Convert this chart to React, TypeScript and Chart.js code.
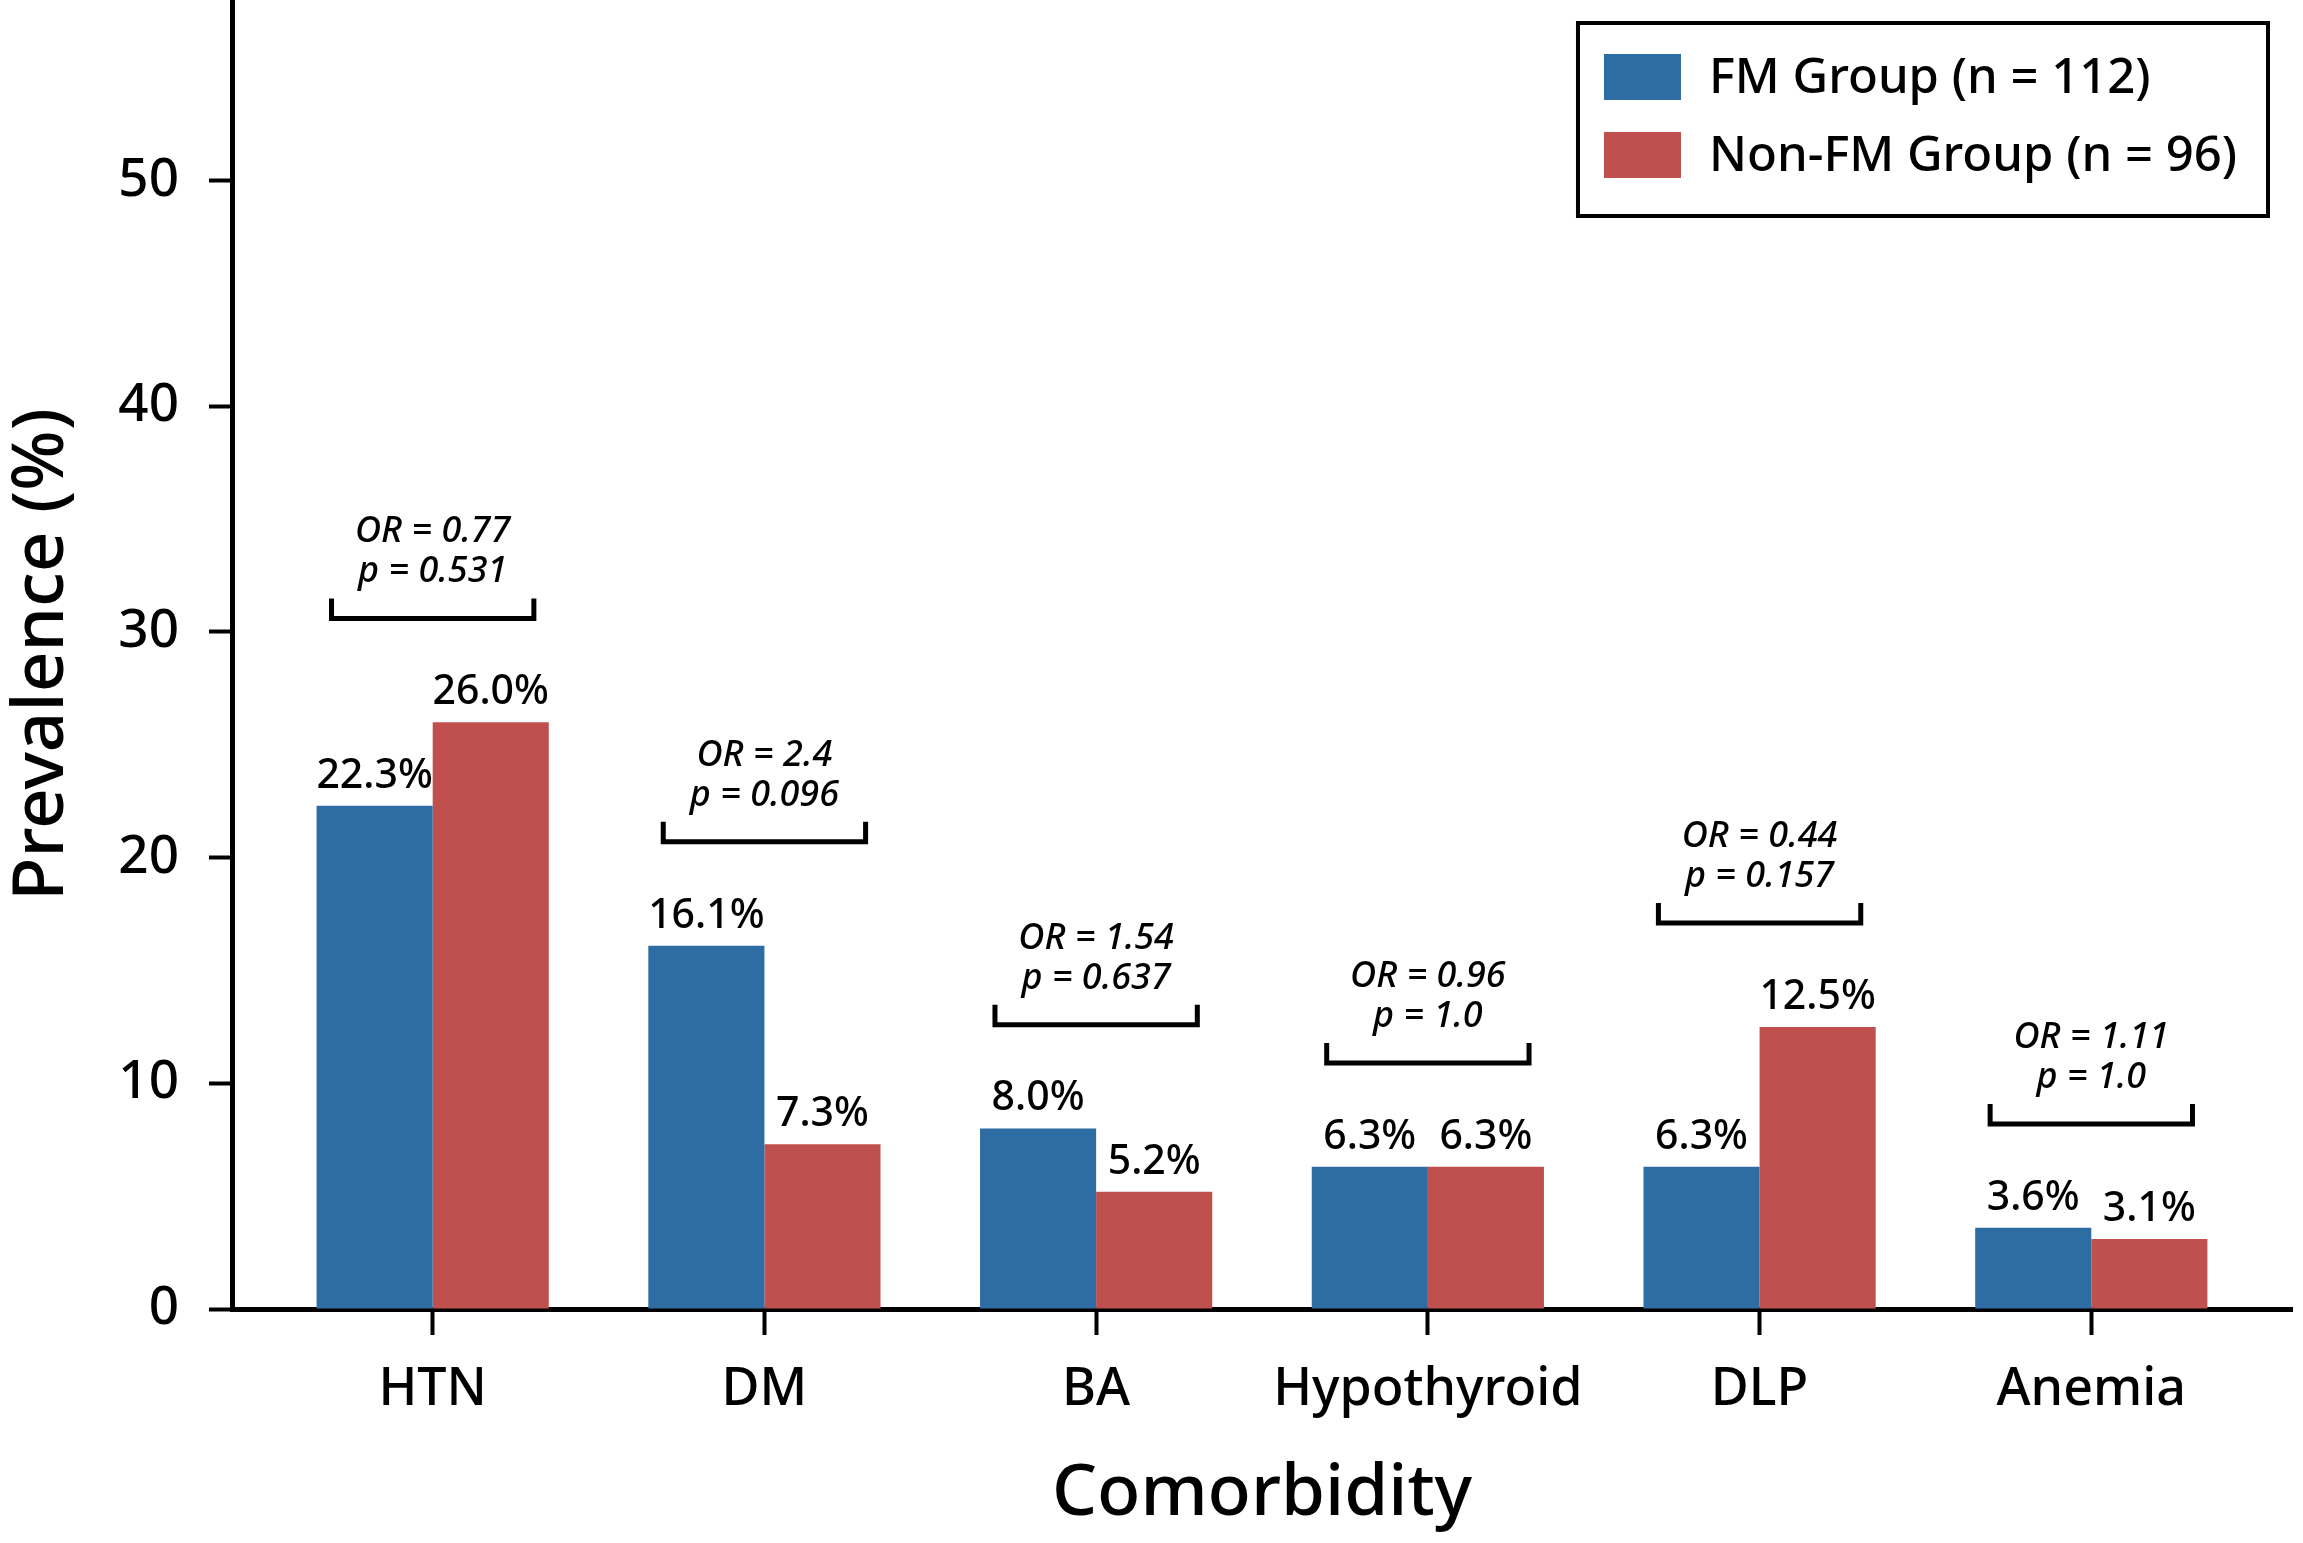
import React, { useEffect, useRef } from 'react';
import { Chart, registerables } from 'chart.js';

Chart.register(...registerables);

const categories = ['HTN', 'DM', 'BA', 'Hypothyroid', 'DLP', 'Anemia'];
const fmValues = [22.3, 16.1, 8.0, 6.3, 6.3, 3.6];
const nonFmValues = [26.0, 7.3, 5.2, 6.3, 12.5, 3.1];
const oddsRatios = ['0.77', '2.4', '1.54', '0.96', '0.44', '1.11'];
const pValues = ['0.531', '0.096', '0.637', '1.0', '0.157', '1.0'];
const yTicks = [0, 10, 20, 30, 40, 50];
const seriesLabels = ['FM Group (n = 112)', 'Non-FM Group (n = 96)'];
const seriesColors = ['#2E6CA4', '#C0504D'];

const W = 2303;
const H = 1543;
const FONT = '"Noto Sans", "Open Sans", sans-serif';
const WT = '500';

const annotationPlugin = {
  id: 'annotations',
  afterDatasetsDraw(chart: any) {
    const ctx = chart.ctx;
    const xs = chart.scales.x;
    const ys = chart.scales.y;
    const area = chart.chartArea;
    ctx.save();
    ctx.fillStyle = '#000';
    ctx.textAlign = 'center';
    ctx.textBaseline = 'alphabetic';

    // value labels
    ctx.font = `${WT} 41px ${FONT}`;
    chart.data.datasets.forEach((ds: any, di: number) => {
      const meta = chart.getDatasetMeta(di);
      meta.data.forEach((el: any, i: number) => {
        const v = ds.data[i].y;
        ctx.fillText(v.toFixed(1) + '%', el.x, el.y - 18);
      });
    });

    // brackets + OR / p text
    categories.forEach((_c, i) => {
      const top = Math.max(fmValues[i], nonFmValues[i]);
      const yb = ys.getPixelForValue(top + 4.6);
      const xl = xs.getPixelForValue(i - 0.305);
      const xr = xs.getPixelForValue(i + 0.305);
      ctx.strokeStyle = '#000';
      ctx.lineWidth = 5;
      ctx.lineJoin = 'miter';
      ctx.beginPath();
      ctx.moveTo(xl, yb - 20);
      ctx.lineTo(xl, yb);
      ctx.lineTo(xr, yb);
      ctx.lineTo(xr, yb - 20);
      ctx.stroke();
      const cx = xs.getPixelForValue(i);
      ctx.font = `italic 500 36px ${FONT}`;
      ctx.fillText(`OR = ${oddsRatios[i]}`, cx, yb - 76);
      ctx.fillText(`p = ${pValues[i]}`, cx, yb - 36);
    });

    // legend box
    ctx.font = `${WT} 49px ${FONT}`;
    const textW = Math.max(...chart.data.datasets.map((d: any) => ctx.measureText(d.label).width));
    const boxRight = area.right - 24;
    const boxTop = area.top + 23;
    const boxH = 193;
    const boxW = 26 + 77 + 28 + textW + 31;
    const boxLeft = boxRight - boxW;
    ctx.fillStyle = '#fff';
    ctx.fillRect(boxLeft, boxTop, boxW, boxH);
    ctx.strokeStyle = '#000';
    ctx.lineWidth = 4;
    ctx.strokeRect(boxLeft, boxTop, boxW, boxH);
    ctx.textAlign = 'left';
    ctx.textBaseline = 'middle';
    chart.data.datasets.forEach((d: any, di: number) => {
      const cy = boxTop + 54 + di * 78;
      ctx.fillStyle = d.backgroundColor;
      ctx.fillRect(boxLeft + 26, cy - 23, 77, 46);
      ctx.fillStyle = '#000';
      ctx.fillText(d.label, boxLeft + 26 + 77 + 28, cy + 2);
    });
    ctx.restore();
  },
};

export default function App() {
  const canvasRef = useRef<HTMLCanvasElement | null>(null);

  useEffect(() => {
    if (!canvasRef.current) return;
    const chart = new Chart(canvasRef.current, {
      type: 'bar',
      data: {
        datasets: [
          {
            label: seriesLabels[0],
            data: fmValues.map((v, i) => ({ x: i, y: v })),
            backgroundColor: seriesColors[0],
            borderWidth: 0,
          },
          {
            label: seriesLabels[1],
            data: nonFmValues.map((v, i) => ({ x: i, y: v })),
            backgroundColor: seriesColors[1],
            borderWidth: 0,
          },
        ],
      },
      options: {
        responsive: false,
        animation: false,
        devicePixelRatio: 1,
        layout: { padding: { left: 0, right: 11, top: 0, bottom: 0 } },
        datasets: { bar: { categoryPercentage: 0.7, barPercentage: 1.0 } },
        plugins: {
          legend: { display: false },
          tooltip: { enabled: false },
        },
        scales: {
          x: {
            type: 'linear',
            min: -0.605,
            max: 5.605,
            offset: false,
            afterBuildTicks: (s: any) => {
              s.ticks = categories.map((_c, i) => ({ value: i }));
            },
            afterFit: (s: any) => {
              s.height = 234;
              s.paddingLeft = 0;
              s.paddingRight = 0;
            },
            ticks: {
              callback: (v: any) => categories[v] ?? '',
              font: { family: FONT, size: 52, weight: WT },
              color: '#000',
              padding: 24,
              maxRotation: 0,
              autoSkip: false,
            },
            grid: {
              offset: false,
              drawOnChartArea: false,
              drawTicks: true,
              tickLength: 26,
              tickWidth: 4,
              tickColor: '#000',
            },
            border: { display: true, color: '#000', width: 5 },
            title: {
              display: true,
              text: 'Comorbidity',
              font: { family: FONT, size: 71, weight: WT },
              color: '#000',
              padding: { top: 0, bottom: 6 },
            },
          },
          y: {
            type: 'linear',
            min: 0,
            max: 58,
            afterBuildTicks: (s: any) => {
              s.ticks = yTicks.map((v) => ({ value: v }));
            },
            afterFit: (s: any) => {
              s.width = 232;
              s.paddingTop = 0;
              s.paddingBottom = 0;
            },
            ticks: {
              font: { family: FONT, size: 53, weight: WT },
              color: '#000',
              padding: 30,
            },
            grid: {
              drawOnChartArea: false,
              drawTicks: true,
              tickLength: 23,
              tickWidth: 4,
              tickColor: '#000',
            },
            border: { display: true, color: '#000', width: 5 },
            title: {
              display: true,
              text: 'Prevalence (%)',
              font: { family: FONT, size: 71, weight: WT },
              color: '#000',
              padding: 0,
            },
          },
        },
      },
      plugins: [annotationPlugin],
    } as any);
    return () => chart.destroy();
  }, []);

  return (
    <div style={{ position: 'fixed', left: 0, top: 0, width: W, height: H, background: '#fff', overflow: 'hidden' }}>
      <canvas ref={canvasRef} width={W} height={H} style={{ width: W, height: H, display: 'block' }} />
    </div>
  );
}
